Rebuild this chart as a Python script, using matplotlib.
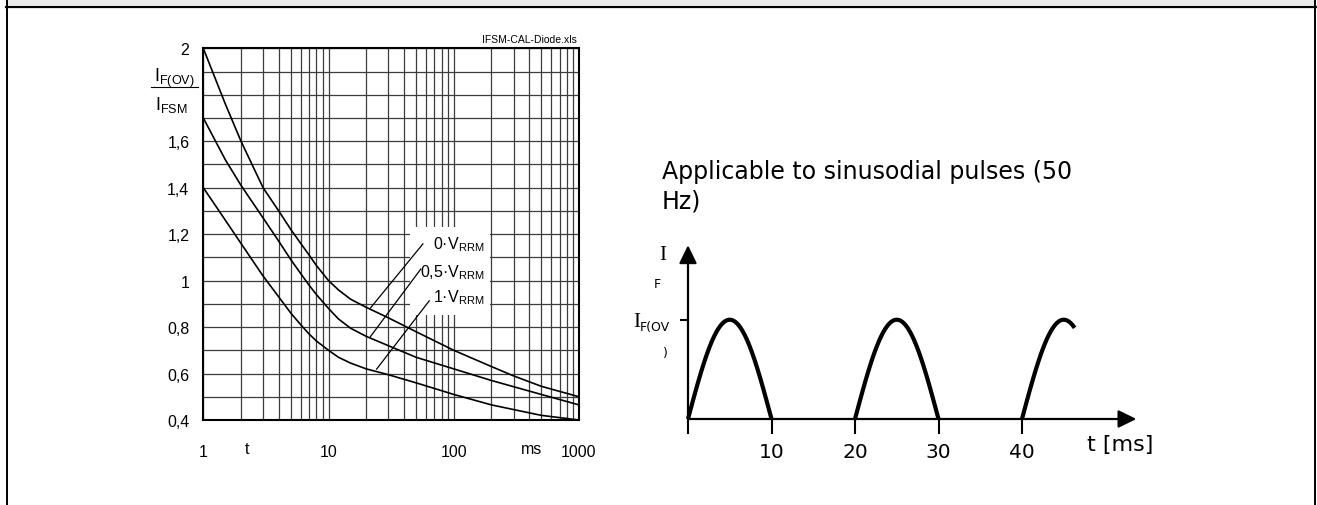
import matplotlib
matplotlib.use('Agg')
import matplotlib.pyplot as plt
import numpy as np
from matplotlib.lines import Line2D
from matplotlib.patches import Rectangle

W, H = 1317, 506

plt.rcParams['mathtext.fontset'] = 'custom'
plt.rcParams['mathtext.rm'] = 'Liberation Sans'
plt.rcParams['mathtext.it'] = 'Liberation Sans'

# surge current curves, t [ms] -> I_F(OV)/I_FSM
t_0v = [1, 1.5, 2, 3, 4, 5, 6, 7, 8, 10, 12, 15, 20, 30, 50, 100, 200, 300, 500, 1000]
v_0v = [2.0, 1.76, 1.6, 1.4, 1.3, 1.22, 1.16, 1.11, 1.065, 1.0, 0.96, 0.92, 0.885, 0.84, 0.78, 0.70, 0.63,
        0.59, 0.545, 0.50]
t_05v = [1, 1.5, 2, 3, 4, 5, 6, 7, 8, 10, 12, 15, 20, 30, 50, 100, 200, 500, 1000]
v_05v = [1.7, 1.52, 1.41, 1.27, 1.17, 1.09, 1.03, 0.98, 0.94, 0.88, 0.835, 0.795, 0.76, 0.72, 0.67, 0.62,
         0.57, 0.51, 0.465]
t_1v = [1, 1.5, 2, 3, 4, 5, 6, 7, 8, 10, 12, 15, 20, 30, 50, 100, 200, 300, 500, 1000]
v_1v = [1.4, 1.26, 1.16, 1.02, 0.93, 0.86, 0.81, 0.77, 0.74, 0.70, 0.67, 0.645, 0.62, 0.595, 0.56, 0.51,
        0.465, 0.445, 0.42, 0.40]

curve_labels = ['0·V$_{\\mathrm{RRM}}$', '0,5·V$_{\\mathrm{RRM}}$', '1·V$_{\\mathrm{RRM}}$']
label_pos = [(177, 1.157), (177, 1.04), (177, 0.93)]
pointer_from = [(21.6, 0.882), (21.6, 0.759), (24.2, 0.619)]
pointer_to = [(56.7, 1.158), (54.6, 1.05), (63.7, 0.913)]

y_ticks = [0.4, 0.5, 0.6, 0.7, 0.8, 0.9, 1.0, 1.1, 1.2, 1.3, 1.4, 1.5, 1.6, 1.7, 1.8, 1.9, 2.0]
y_ticklabels = ['0,4', '', '0,6', '', '0,8', '', '1', '', '1,2', '', '1,4', '', '1,6', '', '', '', '2']
x_ticks = [1, 10, 100, 1000]
x_ticklabels = ['1', '10', '100', '1000']

# pulse sketch
pulse_start = [0, 20, 40]
pulse_stop = [10, 30, 46.3]
pulse_width = 10
pulse_peak = 1.0
pulse_ticks = [0, 10, 20, 30, 40]
pulse_ticklabels = ['', '10', '20', '30', '40']

fig = plt.figure(figsize=(W / 100, H / 100), dpi=100)

# page frame
fig.patches.append(Rectangle((8 / W, 1 - 6 / H), 1306 / W, 6 / H, transform=fig.transFigure,
                             fc='#ebebeb', ec='none'))
fig.lines.append(Line2D([6 / W, 1316 / W], [1 - 7.5 / H] * 2, transform=fig.transFigure, color='k', lw=1.6))
fig.lines.append(Line2D([7 / W] * 2, [0, 1], transform=fig.transFigure, color='k', lw=1.4))
fig.lines.append(Line2D([1315 / W] * 2, [0, 1], transform=fig.transFigure, color='k', lw=1.4))

# left chart
ax = fig.add_axes([203.3 / W, 1 - 421 / H, 375.7 / W, 371.7 / H])
ax.set_xscale('log')
ax.set_xlim(1, 1000)
ax.set_ylim(0.4, 2.0)
ax.set_xticks(x_ticks)
ax.set_xticklabels(x_ticklabels)
ax.set_yticks(y_ticks)
ax.set_yticklabels(y_ticklabels)
ax.set_axisbelow(True)
ax.grid(True, which='both', color='#3c3c3c', lw=0.9)
ax.tick_params(which='both', length=0)
ax.tick_params(axis='x', pad=17)
ax.tick_params(axis='y', pad=10)
for lab in ax.get_xticklabels() + ax.get_yticklabels():
    lab.set_fontfamily('Liberation Sans')
    lab.set_fontsize(11.5)
for sp in ax.spines.values():
    sp.set_linewidth(1.5)

ax.add_patch(Rectangle((44.7, 0.852), 194 - 44.7, 1.23 - 0.852, fc='white', ec='none', zorder=1))
for t, v in [(t_0v, v_0v), (t_05v, v_05v), (t_1v, v_1v)]:
    ax.plot(t, v, color='k', lw=1.2, zorder=3)
for (x0, y0), (x1, y1) in zip(pointer_from, pointer_to):
    ax.plot([x0, x1], [y0, y1], color='k', lw=0.9, zorder=3)
for lab, (x, y) in zip(curve_labels, label_pos):
    ax.text(x, y, lab, ha='right', va='center', fontsize=11.5, family='Liberation Sans', zorder=4)

ax.text(0.115, -0.078, 't', transform=ax.transAxes, ha='center', va='center', fontsize=11.5, family='Liberation Sans')
ax.text(0.875, -0.078, 'ms', transform=ax.transAxes, ha='center', va='center', fontsize=11.5, family='Liberation Sans')
ax.text(0.995, 1.025, 'IFSM-CAL-Diode.xls', transform=ax.transAxes, ha='right', va='center', fontsize=7.5,
        family='Liberation Sans')

# y label as fraction
fig.text(174.5 / W, 1 - 78 / H, '$\\mathrm{I_{F(OV)}}$', ha='center', va='center', fontsize=13)
fig.lines.append(Line2D([151 / W, 198 / W], [1 - 88 / H] * 2, transform=fig.transFigure, color='k', lw=0.8))
fig.text(155 / W, 1 - 105 / H, '$\\mathrm{I_{FSM}}$', ha='left', va='center', fontsize=13)

# right sketch
ax2 = fig.add_axes([654.6 / W, 1 - 459.7 / H, 534.4 / W, 218.4 / H])
ax2.set_xlim(-4, 60)
ax2.set_ylim(-0.4, 1.8)
ax2.axis('off')
for a, b in zip(pulse_start, pulse_stop):
    tt = np.linspace(a, b, 80)
    ax2.plot(tt, pulse_peak * np.sin(np.pi * (tt - a) / pulse_width), color='k', lw=3, solid_capstyle='butt',
             clip_on=False)
arrow = dict(arrowstyle='-|>,head_length=0.55,head_width=0.27', lw=1.6, color='k', mutation_scale=20,
             shrinkA=0, shrinkB=0)
ax2.annotate('', xy=(53.7, 0), xytext=(0, 0), arrowprops=arrow)
ax2.annotate('', xy=(0, 1.75), xytext=(0, 0), arrowprops=arrow)
ax2.vlines(pulse_ticks, -0.15, 0, color='k', lw=1.5)
ax2.hlines(pulse_peak, -0.9, 0, color='k', lw=1.5)
for tk, lab in zip(pulse_ticks, pulse_ticklabels):
    ax2.text(tk, -0.33, lab, ha='center', va='center', fontsize=14.5, family='DejaVu Sans')
ax2.text(47.8, -0.25, 't [ms]', ha='left', va='center', fontsize=16, family='DejaVu Sans')

fig.text(661.6 / W, 1 - 171.7 / H, 'Applicable to sinusodial pulses (50', ha='left', va='center', fontsize=17,
         family='DejaVu Sans')
fig.text(661.6 / W, 1 - 201.7 / H, 'Hz)', ha='left', va='center', fontsize=17, family='DejaVu Sans')
fig.text(663 / W, 1 - 255 / H, 'I', ha='center', va='center', fontsize=15, family='Liberation Serif')
fig.text(657 / W, 1 - 285 / H, 'F', ha='center', va='center', fontsize=9, family='DejaVu Sans')
fig.text(640 / W, 1 - 323 / H, 'I', ha='right', va='center', fontsize=15, family='Liberation Serif')
fig.text(640 / W, 1 - 328 / H, 'F(OV', ha='left', va='center', fontsize=9, family='DejaVu Sans')
fig.text(665 / W, 1 - 354 / H, ')', ha='center', va='center', fontsize=9, family='DejaVu Sans')

fig.savefig('out.png', dpi=100)
